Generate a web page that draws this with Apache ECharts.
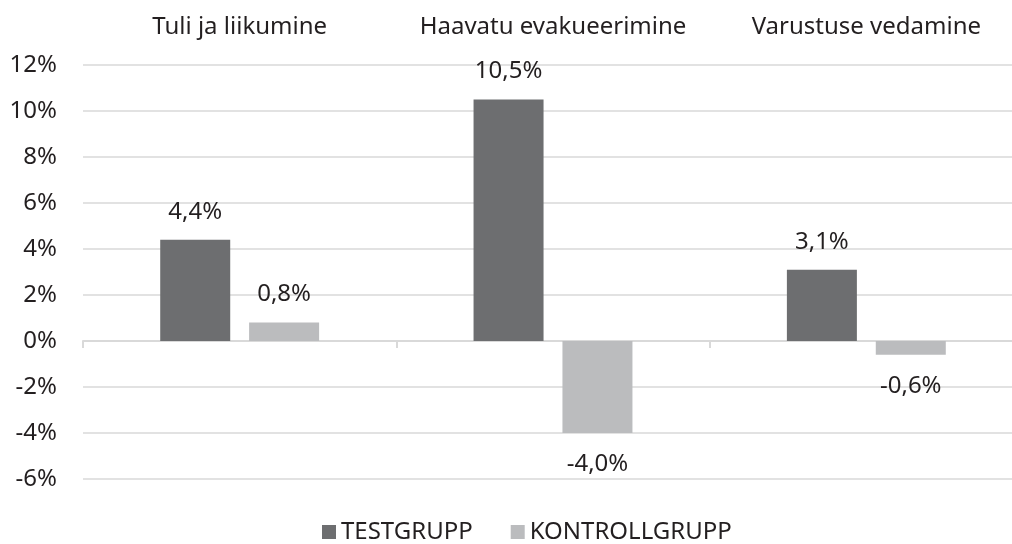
<!DOCTYPE html>
<html>
<head>
<meta charset="utf-8">
<script src="https://cdn.jsdelivr.net/npm/echarts@6/dist/echarts.min.js"></script>
<style>
  html, body { margin: 0; padding: 0; background: #fff; overflow: hidden; }
  #chart { width: 1023px; height: 544px; }
</style>
</head>
<body>
<div id="chart"></div>
<script>
var categories = ['Tuli ja liikumine', 'Haavatu evakueerimine', 'Varustuse vedamine'];
var testValues = [4.4, 10.5, 3.1];
var controlValues = [0.8, -4.0, -0.6];
var seriesNames = ['TESTGRUPP', 'KONTROLLGRUPP'];

var textColor = '#231f20';
var fontName = 'Noto Sans';

function fmt(v) {
    return v.toFixed(1).replace('.', ',') + '%';
}

// negative bars get their label below
function toData(arr) {
    return arr.map(function (v) {
        return {
            value: v,
            label: { position: v < 0 ? 'bottom' : 'top', distance: v < 0 ? 19 : 16 }
        };
    });
}

var myChart = echarts.init(document.getElementById('chart'));
var option = {
    animation: false,
    textStyle: { fontFamily: fontName },
    // chart div is a bit wider than the window, the right edge gets cut off like in the original
    grid: { left: 83, right: 0, top: 65, bottom: 65 },
    legend: {
        top: 520,
        left: 322,
        padding: 0,
        itemWidth: 14,
        itemHeight: 14,
        itemGap: 38,
        icon: 'rect',
        textStyle: { fontSize: 24, color: textColor, fontFamily: fontName },
        data: seriesNames
    },
    xAxis: [{
        type: 'category',
        data: categories,
        axisLine: { onZero: true, lineStyle: { color: '#d9d9d9', width: 2 } },
        axisTick: { show: true, length: 7, lineStyle: { color: '#d9d9d9', width: 2 } },
        axisLabel: { show: false }
    }, {
        type: 'category',
        position: 'top',
        data: categories,
        axisLine: { show: false },
        axisTick: { show: false },
        axisLabel: { interval: 0, margin: 26, fontSize: 24, color: textColor, fontFamily: fontName }
    }],
    yAxis: {
        type: 'value',
        min: -6,
        max: 12,
        interval: 2,
        axisLine: { show: false },
        axisTick: { show: false },
        splitLine: { lineStyle: { color: '#d9d9d9', width: 1.5 } },
        axisLabel: {
            margin: 26,
            fontSize: 24,
            color: textColor,
            fontFamily: fontName,
            formatter: function (v) { return v + '%'; }
        }
    },
    series: [{
        name: seriesNames[0],
        type: 'bar',
        barWidth: 70,
        barGap: '27%',
        itemStyle: { color: '#6d6e70' },
        label: {
            show: true,
            fontSize: 24,
            color: textColor,
            fontFamily: fontName,
            formatter: function (p) { return fmt(p.value); }
        },
        data: toData(testValues)
    }, {
        name: seriesNames[1],
        type: 'bar',
        barWidth: 70,
        barGap: '27%',
        itemStyle: { color: '#bbbcbe' },
        label: {
            show: true,
            fontSize: 24,
            color: textColor,
            fontFamily: fontName,
            formatter: function (p) { return fmt(p.value); }
        },
        data: toData(controlValues)
    }]
};
myChart.setOption(option);
</script>
</body>
</html>
